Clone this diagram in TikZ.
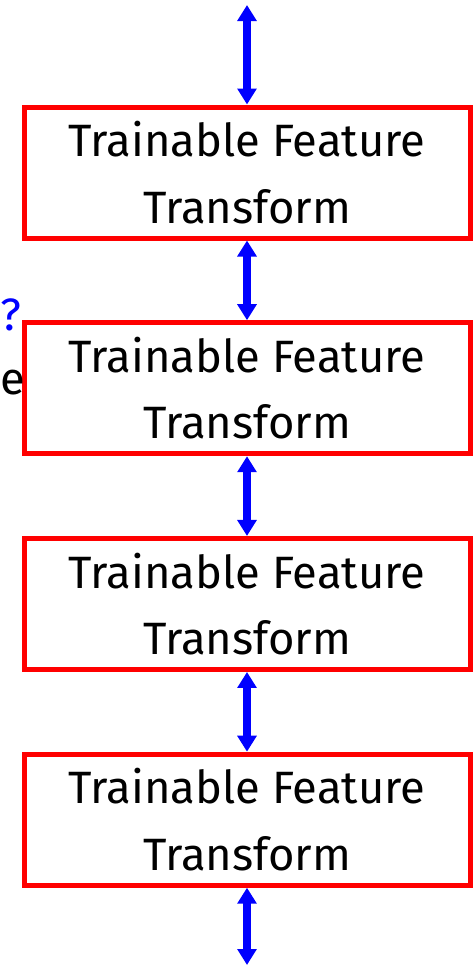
\documentclass[tikz,border=0pt]{standalone}
\usepackage{fontspec}
\setmainfont{Fira Sans}
\usepackage{tikz}
\usetikzlibrary{arrows.meta,positioning}

\begin{document}
\begin{tikzpicture}[
  x=0.75pt, y=-0.75pt,
  node distance=59.8pt,
  tft/.style={draw=red, line width=3.75pt, minimum width=334.5pt,
    minimum height=98.25pt, align=center, inner sep=0pt,
    font=\fontsize{34pt}{50pt}\selectfont},
  arr/.style={{Triangle[length=12pt,width=14pt]}-{Triangle[length=12pt,width=14pt]},
    blue, line width=6pt},
  cut/.style={anchor=base west, inner sep=0pt,
    font=\fontsize{34pt}{50pt}\selectfont},
]
\useasboundingbox (0,0) rectangle (474,968);
% stack of feature transforms
\node[tft] (T1) at (247,172.5) {Trainable Feature\\Transform};
\node[tft, below=of T1] (T2) {Trainable Feature\\Transform};
\node[tft, below=of T2] (T3) {Trainable Feature\\Transform};
\node[tft, below=of T3] (T4) {Trainable Feature\\Transform};
\coordinate (in) at (247,5);
\coordinate (out) at (247,965);
\draw[arr] (in)--(T1.north);
\draw[arr] (T1.south)--(T2.north);
\draw[arr] (T2.south)--(T3.north);
\draw[arr] (T3.south)--(T4.north);
\draw[arr] (T4.south)--(out);

% text at the left edge
\node[cut, text=blue] (q) at (0,330) {?};
\node[cut] (e) at (0,394) {e};
\end{tikzpicture}
\end{document}
